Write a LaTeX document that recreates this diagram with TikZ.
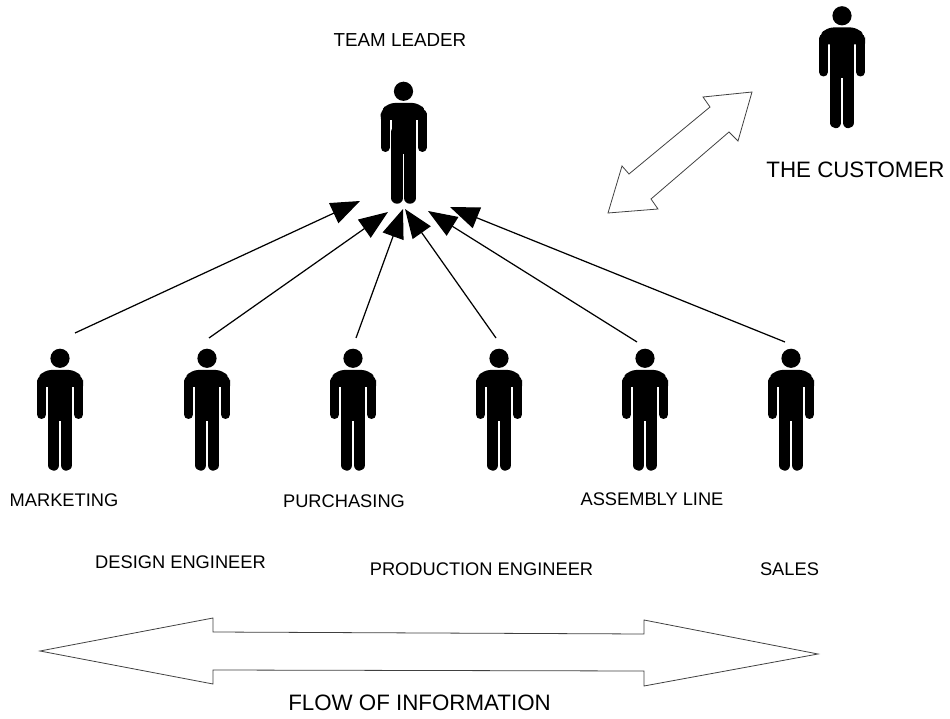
\documentclass[tikz,border=0pt]{standalone}
\usepackage{fontspec}
\setmainfont{Liberation Sans}
\usetikzlibrary{arrows.meta}

\tikzset{
  person/.pic={
    \fill (0,9.3) circle (9.6);
    \fill[rounded corners=4pt] (-23,38) -- (-23,30) -- (-16,21) -- (16,21) -- (23,30) -- (23,38) -- cycle;
    \fill (-12,30) rectangle (12,72);
    \draw[line width=0.18cm,line cap=round] (-18.5,32) -- (-18.5,65.5);
    \draw[line width=0.18cm,line cap=round] (18.5,32) -- (18.5,65.5);
    \draw[line width=0.23cm,line cap=round] (-6.3,50) -- (-6.3,116);
    \draw[line width=0.23cm,line cap=round] (6.3,50) -- (6.3,116);
  }
}

\begin{document}
\begin{tikzpicture}[x=0.02cm,y=-0.02cm]
\tikzset{small/.style={font=\fontsize{10.4}{12}\selectfont}}
\tikzset{big/.style={font=\fontsize{12.7}{15}\selectfont}}
\tikzset{flow/.style={draw=black!75,line width=0.45pt,fill=white,line join=miter}}
\useasboundingbox (0,0) rectangle (950,719);

\pic (leader) at (403.5,82) {person};
\pic (customer) at (842,6.5) {person};
\pic (marketing) at (60,349) {person};
\pic (design) at (207,349) {person};
\pic (purchasing) at (353,349) {person};
\pic (production) at (499,349) {person};
\pic (assembly) at (645,349) {person};
\pic (sales) at (791,349) {person};

\node [small,font=\fontsize{10.7}{12}\selectfont] (tl) at (400,40) {TEAM LEADER};
\node [big] (tc) at (855.5,170) {THE CUSTOMER};
\node [small] (l1) at (64,500) {MARKETING};
\node [small] (l2) at (180.5,562) {DESIGN ENGINEER};
\node [small] (l3) at (344,501) {PURCHASING};
\node [small] (l4) at (481.5,569) {PRODUCTION ENGINEER};
\node [small] (l5) at (652,499) {ASSEMBLY LINE};
\node [small] (l6) at (789.5,569) {SALES};
\node [big] (fl) at (419.5,703) {FLOW OF INFORMATION};

\coordinate (e1) at (360,201);
\coordinate (e2) at (388,212);
\coordinate (e3) at (403,209);
\coordinate (e4) at (405,209);
\coordinate (e5) at (428,211);
\coordinate (e6) at (450,207);
\coordinate (s1) at (75,333);
\coordinate (s2) at (209,338);
\coordinate (s3) at (356,338);
\coordinate (s4) at (496,338);
\coordinate (s5) at (637,342);
\coordinate (s6) at (785,342);

\begin{scope}[>={Triangle[length=0.58cm,width=0.44cm]},every edge/.style={draw=black,line width=0.7pt}]
\path (s1) edge[->] (e1);
\path (s2) edge[->] (e2);
\path (s3) edge[->] (e3);
\path (s4) edge[->] (e4);
\path (s5) edge[->] (e5);
\path (s6) edge[->] (e6);
\end{scope}

\draw [flow] (752,92) -- (703,97) -- (710,107) -- (629,174) -- (622,166) -- (608,213) -- (658,209) -- (651,199) -- (729,132) -- (738,141) -- cycle;
\draw [flow] (40,651) -- (213,618) -- (213,632) -- (644,634) -- (644,620) -- (818,654) -- (644,686) -- (644,671) -- (213,670) -- (213,684) -- cycle;

\end{tikzpicture}
\end{document}
